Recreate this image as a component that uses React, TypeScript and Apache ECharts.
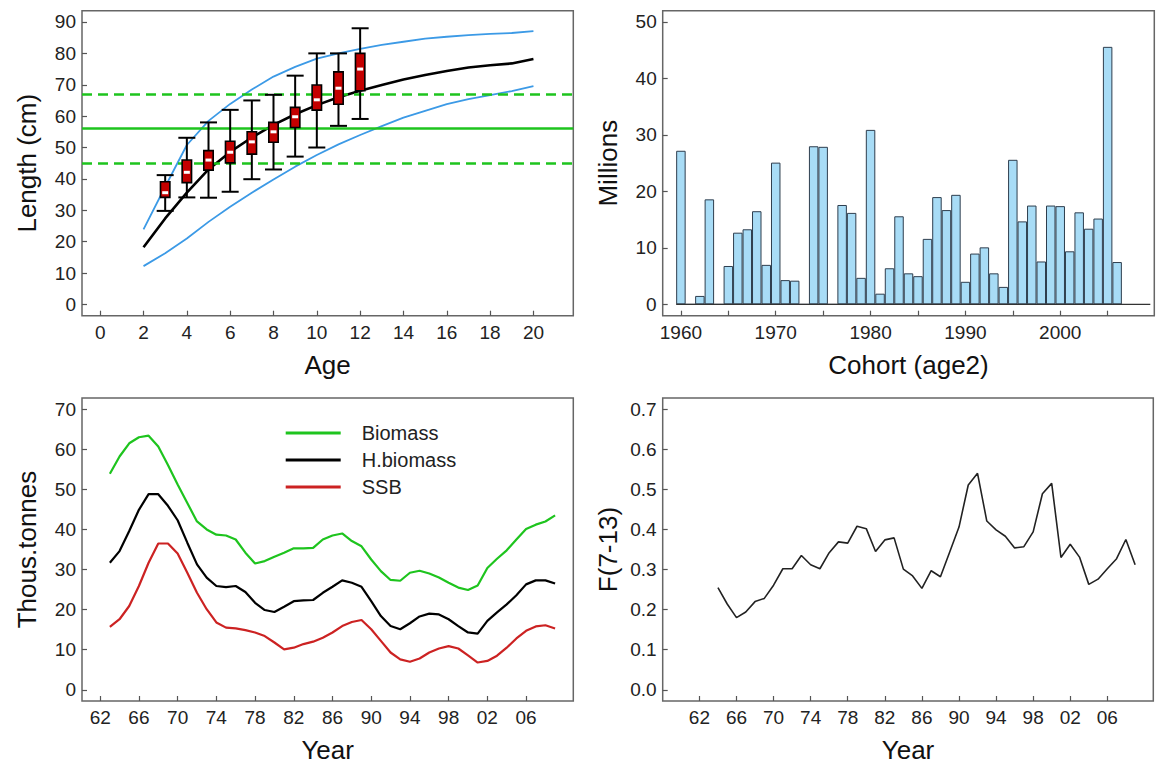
import React, { useEffect, useRef } from "react";
import * as echarts from "echarts";

// ---------- Panel 1: length at age ----------
const ages = [2, 3, 4, 5, 6, 7, 8, 9, 10, 11, 12, 13, 14, 15, 16, 17, 18, 19, 20];
const meanLength = [18.2, 27.4, 35.6, 43.0, 48.6, 53.2, 57.2, 60.6, 63.5, 66.0, 68.1, 69.9, 71.7, 73.1, 74.4, 75.5, 76.2, 76.8, 78.2];
const upperLength = [23.9, 37.5, 50.8, 58.5, 63.9, 68.5, 72.6, 75.7, 78.3, 80.0, 81.4, 82.7, 83.7, 84.7, 85.3, 85.8, 86.2, 86.5, 87.1];
const lowerLength = [12.2, 16.3, 21.0, 26.3, 31.1, 35.6, 39.8, 43.9, 47.6, 51.0, 54.0, 56.8, 59.5, 61.7, 63.8, 65.4, 66.7, 68.0, 69.6];
const boxAges = [3, 4, 5, 6, 7, 8, 9, 10, 11, 12];
const boxMin = [29.8, 34.1, 34.0, 35.9, 39.9, 43.0, 47.1, 50.0, 56.9, 59.1];
const boxQ1 = [34.1, 38.8, 42.8, 45.1, 47.9, 51.7, 56.4, 61.9, 63.8, 68.1];
const boxMedian = [35.6, 42.1, 46.0, 48.5, 51.8, 55.0, 59.8, 65.2, 68.9, 75.0];
const boxQ3 = [39.1, 46.0, 49.0, 52.0, 55.0, 58.0, 62.8, 69.9, 74.1, 80.0];
const boxMax = [41.2, 53.1, 58.0, 62.0, 65.0, 66.8, 72.9, 80.0, 80.0, 88.0];
const refSolid = [56.1];
const refDashed = [44.9, 67.1];
const ageTicks = [0, 2, 4, 6, 8, 10, 12, 14, 16, 18, 20];
const lengthTicks = [0, 10, 20, 30, 40, 50, 60, 70, 80, 90];

// ---------- Panel 2: cohorts ----------
const cohortYears = [1960, 1961, 1962, 1963, 1964, 1965, 1966, 1967, 1968, 1969, 1970, 1971, 1972, 1973, 1974, 1975, 1976, 1977, 1978, 1979, 1980, 1981, 1982, 1983, 1984, 1985, 1986, 1987, 1988, 1989, 1990, 1991, 1992, 1993, 1994, 1995, 1996, 1997, 1998, 1999, 2000, 2001, 2002, 2003, 2004, 2005, 2006];
const recruits = [27.2, 0, 1.5, 18.6, 0, 6.8, 12.7, 13.3, 16.5, 7.0, 25.1, 4.3, 4.2, 0, 28.0, 27.9, 0, 17.6, 16.2, 4.7, 30.9, 1.9, 6.4, 15.6, 5.5, 5.0, 11.6, 19.0, 16.7, 19.4, 4.0, 9.0, 10.1, 5.5, 3.1, 25.6, 14.7, 17.5, 7.6, 17.5, 17.4, 9.4, 16.3, 13.4, 15.2, 45.6, 7.5];
const cohortTicks = [1960, 1965, 1970, 1975, 1980, 1985, 1990, 1995, 2000, 2005];
const cohortLabels = [1960, 1970, 1980, 1990, 2000];
const millionTicks = [0, 10, 20, 30, 40, 50];
const baselineSpan = [1959.5, 2009.5];

// ---------- Panel 3: biomass ----------
const stockYears = [1963, 1964, 1965, 1966, 1967, 1968, 1969, 1970, 1971, 1972, 1973, 1974, 1975, 1976, 1977, 1978, 1979, 1980, 1981, 1982, 1983, 1984, 1985, 1986, 1987, 1988, 1989, 1990, 1991, 1992, 1993, 1994, 1995, 1996, 1997, 1998, 1999, 2000, 2001, 2002, 2003, 2004, 2005, 2006, 2007, 2008, 2009];
const biomass = [53.9, 58.2, 61.5, 63.0, 63.4, 60.7, 56.1, 51.2, 46.6, 42.0, 40.0, 38.7, 38.5, 37.5, 34.2, 31.5, 32.1, 33.2, 34.2, 35.3, 35.3, 35.4, 37.5, 38.5, 39.0, 37.1, 35.8, 32.5, 29.6, 27.4, 27.2, 29.2, 29.7, 29.0, 28.0, 26.7, 25.5, 24.9, 26.0, 30.4, 32.7, 34.8, 37.5, 40.1, 41.2, 42.0, 43.5];
const hBiomass = [31.7, 34.6, 39.6, 44.9, 48.8, 48.8, 45.9, 42.3, 36.7, 31.3, 28.0, 25.9, 25.6, 25.9, 24.4, 21.7, 19.9, 19.4, 20.7, 22.1, 22.3, 22.4, 24.2, 25.7, 27.3, 26.7, 25.7, 22.1, 18.4, 15.9, 15.1, 16.6, 18.3, 19.0, 18.8, 17.6, 15.9, 14.3, 14.0, 17.2, 19.3, 21.3, 23.6, 26.3, 27.3, 27.3, 26.5];
const ssb = [15.7, 17.6, 20.9, 25.9, 31.7, 36.5, 36.5, 34.0, 29.2, 24.2, 20.1, 16.8, 15.5, 15.3, 14.9, 14.3, 13.4, 11.8, 10.1, 10.5, 11.4, 12.0, 13.0, 14.3, 15.9, 16.9, 17.4, 15.1, 12.2, 9.3, 7.6, 7.0, 7.8, 9.3, 10.3, 10.9, 10.3, 8.6, 6.8, 7.2, 8.5, 10.5, 12.8, 14.7, 15.8, 16.1, 15.3];
const stockYearTicks = [1962, 1966, 1970, 1974, 1978, 1982, 1986, 1990, 1994, 1998, 2002, 2006];
const tonneTicks = [0, 10, 20, 30, 40, 50, 60, 70];

// ---------- Panel 4: fishing mortality ----------
const fYears = [1964, 1965, 1966, 1967, 1968, 1969, 1970, 1971, 1972, 1973, 1974, 1975, 1976, 1977, 1978, 1979, 1980, 1981, 1982, 1983, 1984, 1985, 1986, 1987, 1988, 1989, 1990, 1991, 1992, 1993, 1994, 1995, 1996, 1997, 1998, 1999, 2000, 2001, 2002, 2003, 2004, 2005, 2006, 2007, 2008, 2009];
const fValues = [0.255, 0.214, 0.180, 0.194, 0.220, 0.228, 0.261, 0.302, 0.302, 0.335, 0.312, 0.302, 0.342, 0.369, 0.366, 0.408, 0.402, 0.345, 0.374, 0.379, 0.301, 0.284, 0.253, 0.297, 0.282, 0.344, 0.406, 0.511, 0.540, 0.421, 0.399, 0.383, 0.354, 0.357, 0.394, 0.489, 0.515, 0.330, 0.363, 0.331, 0.263, 0.276, 0.302, 0.327, 0.375, 0.312];
const fYearTicks = [1962, 1966, 1970, 1974, 1978, 1982, 1986, 1990, 1994, 1998, 2002, 2006];
const fTicks = [0, 0.1, 0.2, 0.3, 0.4, 0.5, 0.6, 0.7];

const FONT = "'Liberation Sans', Arial, Helvetica, sans-serif";
const GREEN = "#1ec41e";
const BLUE = "#3c9ae6";
const RED = "#cc2222";

const grids = [
  { left: 82, top: 10.7, width: 491.3, height: 305 },
  { left: 662.7, top: 10.7, width: 491.6, height: 305 },
  { left: 82, top: 398, width: 491.3, height: 303.5 },
  { left: 662.7, top: 398, width: 490.6, height: 303.5 },
];

const twoDigit = (v: number) => String(Math.round(v) % 100).padStart(2, "0");

function xAxis(gridIndex: number, min: number, max: number, ticks: number[], labels: number[], name: string, formatter?: (v: number) => string) {
  return {
    type: "value",
    gridIndex,
    min,
    max,
    name,
    nameLocation: "middle",
    nameGap: 36,
    nameTextStyle: { fontSize: 26, color: "#111", fontFamily: FONT },
    axisLine: { show: false, onZero: false },
    splitLine: { show: false },
    axisTick: { show: true, inside: true, length: 5, customValues: ticks, lineStyle: { color: "#555", width: 1.2 } },
    axisLabel: {
      show: true,
      customValues: labels,
      showMinLabel: true,
      showMaxLabel: true,
      hideOverlap: false,
      margin: 7,
      fontSize: 19,
      color: "#222",
      fontFamily: FONT,
      formatter: formatter || ((v: number) => String(v)),
    },
  };
}

function yAxis(gridIndex: number, min: number, max: number, ticks: number[], name: string, formatter?: (v: number) => string) {
  return {
    type: "value",
    gridIndex,
    min,
    max,
    name,
    nameLocation: "middle",
    nameRotate: 90,
    nameGap: 42,
    nameTextStyle: { fontSize: 26, color: "#111", fontFamily: FONT },
    axisLine: { show: false, onZero: false },
    splitLine: { show: false },
    axisTick: { show: true, inside: true, length: 5, customValues: ticks, lineStyle: { color: "#555", width: 1.2 } },
    axisLabel: {
      show: true,
      customValues: ticks,
      showMinLabel: true,
      showMaxLabel: true,
      margin: 6,
      fontSize: 19,
      color: "#222",
      fontFamily: FONT,
      formatter: formatter || ((v: number) => String(v)),
    },
  };
}

const pair = (xs: number[], ys: number[]) => xs.map((x, i) => [x, ys[i]]);

const tr = grids[1];
const barPx = tr.width / (2009.92 - 1958.08);

const option: any = {
  animation: false,
  backgroundColor: "#ffffff",
  textStyle: { fontFamily: FONT },
  grid: grids.map((g) => ({ ...g, show: true, borderColor: "#666", borderWidth: 1.5, backgroundColor: "transparent" })),
  legend: {
    data: ["Biomass", "H.biomass", "SSB"],
    orient: "vertical",
    left: 280.7,
    top: 418,
    icon: "rect",
    itemWidth: 55,
    itemHeight: 3,
    itemGap: 7,
    textStyle: { fontSize: 20, color: "#222", fontFamily: FONT, padding: [0, 0, 0, 16] },
  },
  xAxis: [
    xAxis(0, -0.84, 21.84, ageTicks, ageTicks, "Age"),
    xAxis(1, 1958.08, 2009.92, cohortTicks, cohortLabels, "Cohort (age2)"),
    xAxis(2, 1960.12, 2010.88, stockYearTicks, stockYearTicks, "Year", twoDigit),
    xAxis(3, 1958.04, 2010.96, fYearTicks, fYearTicks, "Year", twoDigit),
  ],
  yAxis: [
    yAxis(0, -3.6, 93.6, lengthTicks, "Length (cm)"),
    yAxis(1, -2, 52, millionTicks, "Millions"),
    yAxis(2, -2.8, 72.8, tonneTicks, "Thous.tonnes"),
    yAxis(3, -0.028, 0.728, fTicks, "F(7-13)", (v: number) => v.toFixed(1)),
  ],
  series: [
    // Panel 1
    {
      name: "lower",
      type: "line",
      xAxisIndex: 0,
      yAxisIndex: 0,
      data: pair(ages, lowerLength),
      symbol: "none",
      lineStyle: { color: BLUE, width: 1.8 },
      z: 2,
      markLine: {
        silent: true,
        symbol: "none",
        label: { show: false },
        lineStyle: { color: GREEN, width: 2.6 },
        data: [
          ...refSolid.map((v) => ({ yAxis: v, lineStyle: { color: GREEN, width: 2.6, type: "solid" } })),
          ...refDashed.map((v) => ({ yAxis: v, lineStyle: { color: GREEN, width: 2.6, type: [10, 6] } })),
        ],
      },
    },
    {
      name: "upper",
      type: "line",
      xAxisIndex: 0,
      yAxisIndex: 0,
      data: pair(ages, upperLength),
      symbol: "none",
      lineStyle: { color: BLUE, width: 1.8 },
      z: 2,
    },
    {
      name: "mean",
      type: "line",
      xAxisIndex: 0,
      yAxisIndex: 0,
      data: pair(ages, meanLength),
      symbol: "none",
      lineStyle: { color: "#000", width: 2.6 },
      z: 3,
    },
    {
      name: "boxes",
      type: "custom",
      xAxisIndex: 0,
      yAxisIndex: 0,
      z: 5,
      data: boxAges.map((a, i) => [a, boxMin[i], boxQ1[i], boxMedian[i], boxQ3[i], boxMax[i]]),
      encode: { x: 0, y: [1, 2, 3, 4, 5] },
      renderItem: (params: any, api: any) => {
        const x = api.value(0);
        const pMin = api.coord([x, api.value(1)]);
        const pQ1 = api.coord([x, api.value(2)]);
        const pMed = api.coord([x, api.value(3)]);
        const pQ3 = api.coord([x, api.value(4)]);
        const pMax = api.coord([x, api.value(5)]);
        const cx = pMin[0];
        const line = { stroke: "#000", lineWidth: 2 };
        return {
          type: "group",
          children: [
            { type: "line", shape: { x1: cx, y1: pMax[1], x2: cx, y2: pMin[1] }, style: line },
            { type: "line", shape: { x1: cx - 8.5, y1: pMax[1], x2: cx + 8.5, y2: pMax[1] }, style: line },
            { type: "line", shape: { x1: cx - 8.5, y1: pMin[1], x2: cx + 8.5, y2: pMin[1] }, style: line },
            { type: "rect", shape: { x: cx - 4.7, y: pQ3[1], width: 9.4, height: pQ1[1] - pQ3[1] }, style: { fill: "#c40000", stroke: "#000", lineWidth: 1.6 } },
            { type: "rect", shape: { x: cx - 3, y: pMed[1] - 1.5, width: 6, height: 3 }, style: { fill: "#ffffff" } },
          ],
        };
      },
    },
    // Panel 2
    {
      name: "recruits",
      type: "bar",
      xAxisIndex: 1,
      yAxisIndex: 1,
      data: pair(cohortYears, recruits),
      barWidth: barPx,
      itemStyle: { color: "#a8dcf6", borderColor: "#2e3e4e", borderWidth: 1 },
      z: 2,
    },
    {
      name: "baseline",
      type: "line",
      xAxisIndex: 1,
      yAxisIndex: 1,
      data: baselineSpan.map((x) => [x, 0]),
      symbol: "none",
      lineStyle: { color: "#333", width: 1.2 },
      z: 3,
    },
    // Panel 3
    {
      name: "Biomass",
      type: "line",
      xAxisIndex: 2,
      yAxisIndex: 2,
      data: pair(stockYears, biomass),
      symbol: "none",
      lineStyle: { color: GREEN, width: 2.2 },
      itemStyle: { color: GREEN },
    },
    {
      name: "H.biomass",
      type: "line",
      xAxisIndex: 2,
      yAxisIndex: 2,
      data: pair(stockYears, hBiomass),
      symbol: "none",
      lineStyle: { color: "#000", width: 2.2 },
      itemStyle: { color: "#000" },
    },
    {
      name: "SSB",
      type: "line",
      xAxisIndex: 2,
      yAxisIndex: 2,
      data: pair(stockYears, ssb),
      symbol: "none",
      lineStyle: { color: RED, width: 2.2 },
      itemStyle: { color: RED },
    },
    // Panel 4
    {
      name: "F",
      type: "line",
      xAxisIndex: 3,
      yAxisIndex: 3,
      data: pair(fYears, fValues),
      symbol: "none",
      lineStyle: { color: "#222", width: 1.6 },
    },
  ],
};

export default function App() {
  const ref = useRef<HTMLDivElement>(null);
  useEffect(() => {
    if (!ref.current) return;
    const chart = echarts.init(ref.current, null, { renderer: "svg" });
    chart.setOption(option);
    return () => chart.dispose();
  }, []);
  return (
    <div
      ref={ref}
      style={{ position: "absolute", left: 0, top: 0, width: 1162, height: 764, background: "#fff" }}
    />
  );
}
